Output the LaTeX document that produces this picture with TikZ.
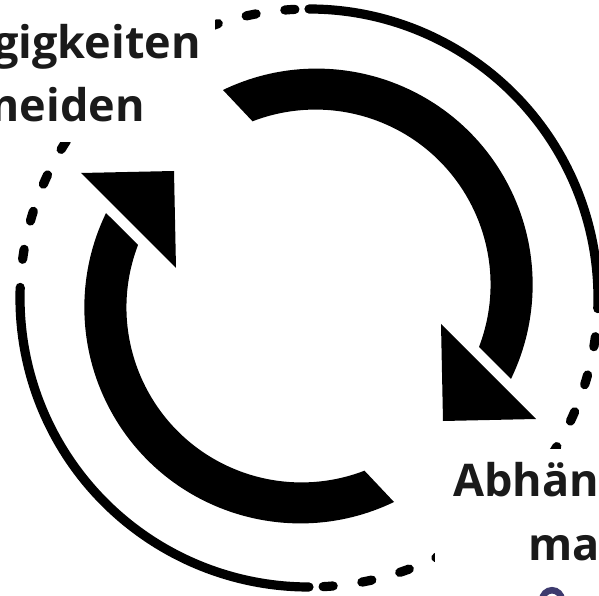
\documentclass[tikz,border=0pt]{standalone}
\usepackage{fontspec}
\setmainfont{Open Sans}
\definecolor{myink}{RGB}{26,26,26}
\definecolor{mypurple}{RGB}{61,58,110}

\begin{document}
\begin{tikzpicture}[x=1pt,y=1pt,
  ring/.style={line width=9.2pt,line cap=round},
  turn/.style={fill=black},
  mask/.style={fill=white},
  caption/.style={inner sep=0pt,text=myink,font=\bfseries\fontsize{45}{54}\selectfont}]

 \useasboundingbox (-309,-298) rectangle (290,298);
 \clip (-309,-298) rectangle (290,298);

 % draw outer ring, one half solid and one half dashed
 \foreach \rot in {0,180} {
  \begin{scope}[rotate=\rot]
   \draw[ring] (90:289) arc[start angle=90,end angle=-2.1,radius=289];
   \foreach \k in {0,...,10} {
    \pgfmathsetmacro{\ang}{-8.7-7.75*\k}
    \draw[ring] (\ang+1:289) arc[start angle=\ang+1,end angle=\ang-1,radius=289];
   }
  \end{scope}
 }

 % draw the two arrows
 \foreach \rot in {0,180} {
  \begin{scope}[rotate around={\rot:(-0.5,2)}]
   \fill[turn] (-86,208) arc[start angle=115.7,end angle=-25.9,radius=216]
    -- (170,-49) arc[start angle=-20.9,end angle=111.1,radius=175] -- cycle;
   \fill[turn] (-228,125) -- (-135,127) -- (-133,30) -- cycle;
  \end{scope}
 }

 % hide the ring behind the labels
 \fill[mask] (-309,156) rectangle (-94,298);
 \fill[mask] (126,-151) rectangle (290,-298);

 \node[caption,anchor=base east] (topone) at (-108,239) {gigkeiten};
 \node[caption,anchor=base east] (toptwo) at (-164,176) {meiden};
 \node[caption,anchor=base west] (botone) at (144,-198) {Abhän};
 \node[caption,anchor=base west] (bottwo) at (219,-262) {ma};

 \draw[mypurple,line width=6.5pt] (243,-302) circle (9.75);

\end{tikzpicture}
\end{document}
